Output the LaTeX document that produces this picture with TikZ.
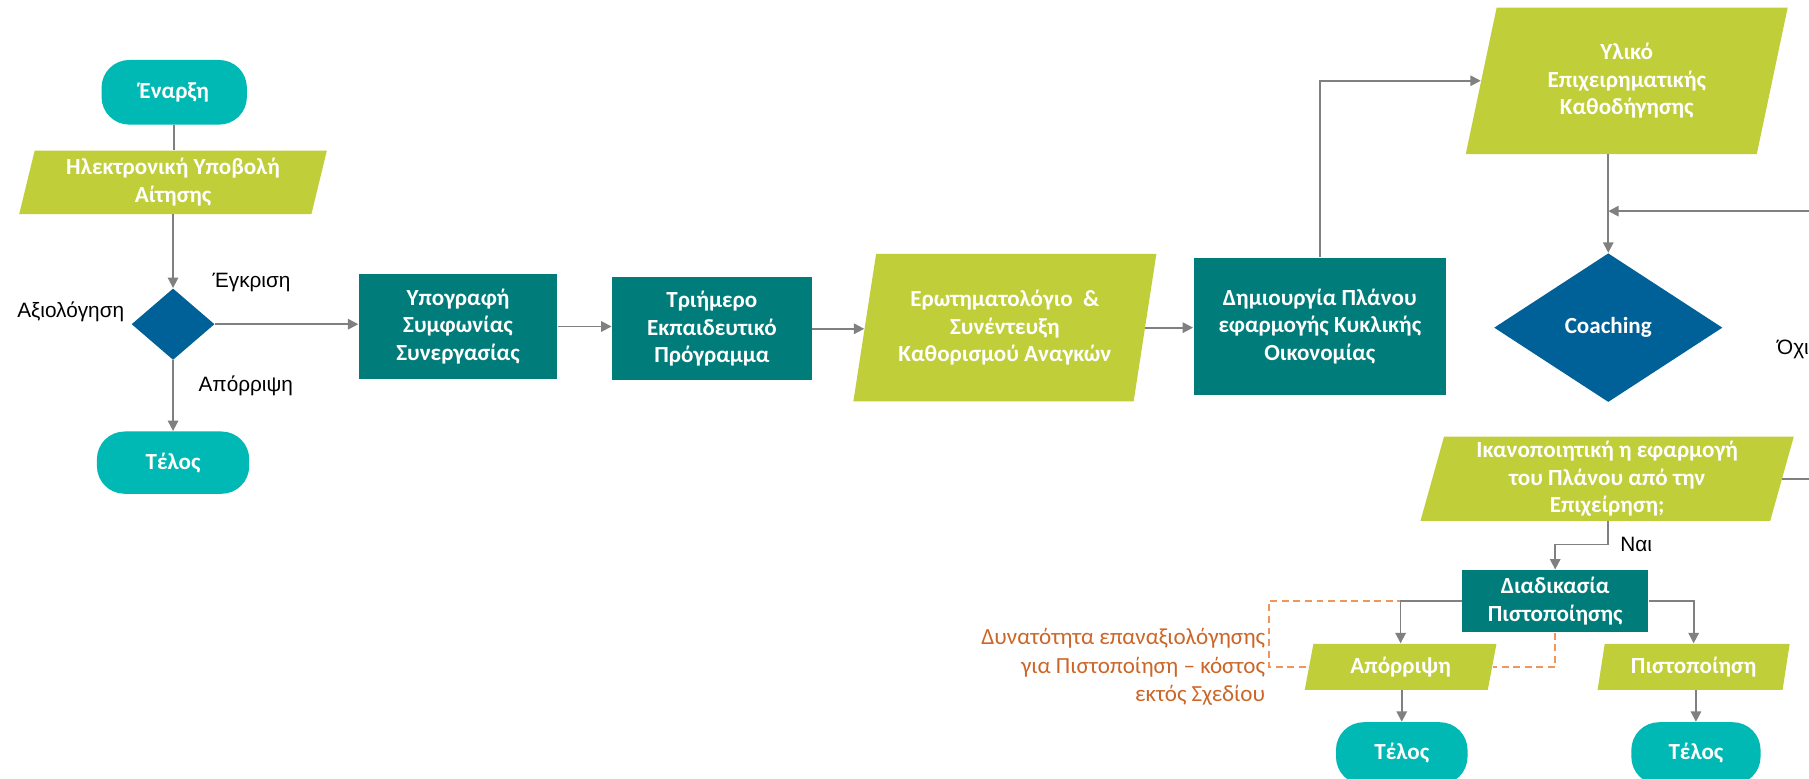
\documentclass[tikz,border=0pt]{standalone}
\usepackage{fontspec}
\setmainfont{Carlito}
\newfontfamily\lblfont{Liberation Sans}
\usetikzlibrary{shapes.geometric,arrows.meta,calc}
\definecolor{pillc}{RGB}{0,184,180}
\definecolor{limec}{RGB}{192,206,58}
\definecolor{tealc}{RGB}{0,125,122}
\definecolor{bluec}{RGB}{0,96,152}
\definecolor{linec}{RGB}{128,128,128}
\definecolor{orangetxt}{RGB}{204,102,40}
\definecolor{orangeln}{RGB}{240,150,90}
\begin{document}
\begin{tikzpicture}[x=0.5pt,y=-0.5pt,
 boxtext/.style={text=white, font=\bfseries\fontsize{10}{12}\selectfont, align=center, inner sep=0pt},
 pill/.style={boxtext, rectangle, rounded corners=12pt, fill=pillc},
 procbox/.style={boxtext, rectangle, fill=tealc},
 para/.style={boxtext, trapezium, trapezium left angle=76, trapezium right angle=104, trapezium stretches=true, fill=limec},
 decision/.style={boxtext, diamond, fill=bluec},
 conn/.style={draw=linec, line width=0.75pt},
 arr/.style={conn, -{Triangle[length=4.5pt,width=4.5pt]}},
 optline/.style={draw=orangeln, line width=0.9pt, dash pattern=on 3pt off 2pt},
 lbl/.style={font=\lblfont\fontsize{9}{11}\selectfont, text=black, inner sep=0pt},
 note/.style={font=\fontsize{10}{12.5}\selectfont, text=orangetxt, align=right, inner sep=0pt},
]
\useasboundingbox (0,0) rectangle (1568,675);
\fill[white] (0,0) rectangle (1568,675);

% nodes
\node[pill, minimum width=63pt, minimum height=28pt] (start) at (151,80) {Έναρξη};
\node[para, minimum width=133.5pt, minimum height=27.5pt] (submit) at (150,158) {Ηλεκτρονική Υποβολή\\Αίτησης};
\node[decision, minimum width=36pt, minimum height=31pt] (eval) at (150,281) {};
\node[pill, minimum width=66pt, minimum height=27pt] (end1) at (150,401) {Τέλος};
\node[procbox, minimum width=86pt, minimum height=45.5pt] (sign) at (397,283) {Υπογραφή\\Συμφωνίας\\Συνεργασίας};
\node[procbox, minimum width=86.5pt, minimum height=44.5pt] (train) at (617,285) {Τριήμερο\\Εκπαιδευτικό\\Πρόγραμμα};
\node[para, minimum width=131.5pt, minimum height=64pt] (quest) at (871,284) {Ερωτηματολόγιο~ \&\\Συνέντευξη\\Καθορισμού Αναγκών};
\node[procbox, minimum width=109.5pt, minimum height=59.5pt] (plan) at (1144,283) {Δημιουργία Πλάνου\\εφαρμογής Κυκλικής\\Οικονομίας};
\node[para, minimum width=140.5pt, minimum height=63.5pt] (material) at (1410,70) {Υλικό\\Επιχειρηματικής\\Καθοδήγησης};
\node[decision, minimum width=99pt, minimum height=64.5pt] (coach) at (1394,284) {Coaching};
\node[para, minimum width=162pt, minimum height=36.5pt] (satisf) at (1393,415) {Ικανοποιητική η εφαρμογή\\του Πλάνου από την\\Επιχείρηση;};
\node[procbox, minimum width=80.5pt, minimum height=27pt] (cert) at (1348,521) {Διαδικασία\\Πιστοποίησης};
\node[para, minimum width=83.5pt, minimum height=20pt] (rej) at (1214,578) {Απόρριψη};
\node[para, minimum width=83.5pt, minimum height=20pt] (certified) at (1468,578) {Πιστοποίηση};
\node[pill, minimum width=57pt, minimum height=27pt] (end2) at (1215,653) {Τέλος};
\node[pill, minimum width=56pt, minimum height=27pt] (end3) at (1470,653) {Τέλος};

% helper coordinates
\coordinate (joinY) at (0,183);
\coordinate (loopR) at (1600,183);
\coordinate (dashL) at (1100,0);

% connectors
\draw[conn] (start.south) -- (start.south |- submit.north);
\draw[arr] (submit.south -| eval.north) -- (eval.north);
\draw[arr] (eval.south) -- (end1.north);
\draw[arr] (eval.east) -- (eval.east -| sign.west);
\draw[arr] (sign.east) -- (sign.east -| train.west);
\draw[arr] (train.east) -- (train.east -| quest.west);
\draw[arr] (quest.east) -- (quest.east -| plan.west);
\draw[arr] (plan.north) |- (material.west);
\draw[arr] (coach.north |- material.south) -- (coach.north);
\draw[arr] (satisf.east) -| (loopR) -- (coach.north |- joinY);
\draw[arr] (satisf.south -| coach.south) -- ++(0,20) -| (cert.north);
\draw[optline] (cert.west) -- (cert.west -| dashL) |- (rej.west);
\draw[optline] (cert.south) |- (rej.east);
\draw[arr] (cert.west) -| (rej.north);
\draw[arr] (cert.east) -| (certified.north);
\draw[arr] (rej.south -| end2.north) -- (end2.north);
\draw[arr] (certified.south -| end3.north) -- (end3.north);

% labels
\node[lbl, anchor=east] (lblEval) at (108,270) {Αξιολόγηση};
\node[lbl] (lblYes1) at (218,245) {Έγκριση};
\node[lbl] (lblNo1) at (213,334) {Απόρριψη};
\node[lbl, anchor=west] (lblNo2) at (1540,303) {Όχι};
\node[lbl, anchor=west] (lblYes2) at (1404,472) {Ναι};
\node[note, anchor=east] (noteTxt) at (1097,578) {Δυνατότητα επαναξιολόγησης\\για Πιστοποίηση – κόστος\\εκτός Σχεδίου};
\end{tikzpicture}
\end{document}
